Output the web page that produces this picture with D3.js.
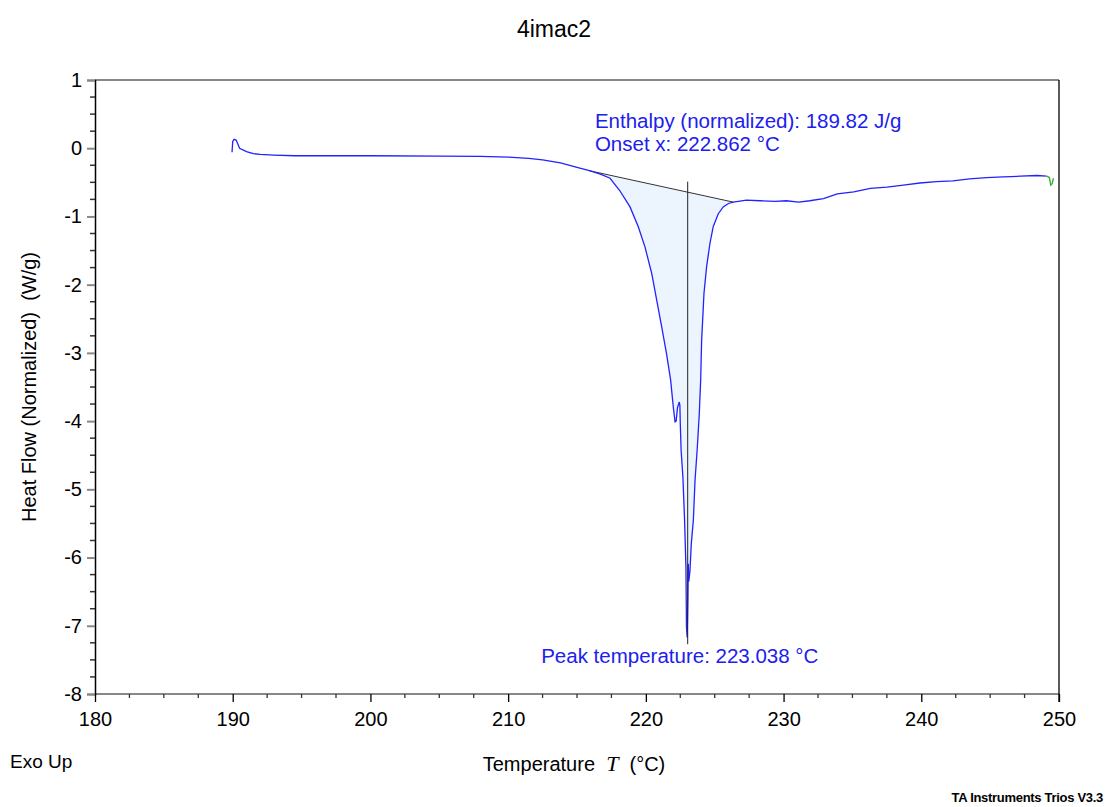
<!DOCTYPE html>
<html>
<head>
<meta charset="utf-8">
<script src="https://cdn.jsdelivr.net/npm/d3@7"></script>
<style>
  body { margin: 0; background: #fff; }
  text { font-family: "Liberation Sans", Arial, sans-serif; }
</style>
</head>
<body>
<div id="graph"></div>
<script>
var width = 1109, height = 807;
var margin = {left: 95, right: 50, top: 80, bottom: 113};

// measured curve: temperature (°C) and heat flow (W/g)
var temps = [189.95, 190.0, 190.1, 190.25, 190.5, 191.0, 191.5, 192.0, 193.0, 194.5,
  200, 205, 208, 210, 211.5, 212.5, 213.8, 215.0, 215.9, 216.7,
  217.4, 218.1, 218.85, 219.45, 219.94, 220.43, 220.79, 221.15, 221.5, 221.8,
  221.99, 222.12, 222.2, 222.3, 222.43, 222.47, 222.5, 222.56, 222.69, 222.81,
  222.91, 222.95, 223.0, 223.05, 223.08, 223.12, 223.2, 223.3, 223.45, 223.57,
  223.74, 223.88, 223.98, 224.05, 224.22, 224.41, 224.65, 224.89, 225.26, 225.62,
  226.0, 226.35, 227.3, 228.3, 229.4, 230.2, 231.1, 231.9, 232.9, 233.9,
  235.1, 236.3, 237.5, 238.7, 239.9, 241.1, 242.3, 243.5, 244.75, 245.96,
  247.2, 248.4, 249.1];
var heatFlow = [-0.06, 0.10, 0.13, 0.12, 0.0, -0.05, -0.08, -0.09, -0.10, -0.11,
  -0.11, -0.115, -0.12, -0.13, -0.15, -0.17, -0.215, -0.28, -0.33, -0.38,
  -0.44, -0.62, -0.86, -1.15, -1.45, -1.84, -2.23, -2.62, -3.01, -3.40,
  -3.79, -4.01, -4.0, -3.8, -3.72, -3.77, -4.04, -4.43, -4.82, -5.45,
  -6.14, -7.02, -7.17, -6.6, -6.09, -6.35, -6.2, -5.8, -5.45, -4.87,
  -4.38, -3.89, -3.40, -2.82, -2.13, -1.74, -1.40, -1.15, -0.96, -0.86,
  -0.81, -0.79, -0.76, -0.77, -0.78, -0.77, -0.79, -0.77, -0.74, -0.67,
  -0.64, -0.59, -0.57, -0.54, -0.51, -0.49, -0.48, -0.45, -0.43, -0.42,
  -0.41, -0.40, -0.41];
// tail segment drawn in green
var tailTemps = [249.1, 249.3, 249.4, 249.5, 249.6];
var tailFlow = [-0.41, -0.43, -0.54, -0.52, -0.44];

// integration baseline end points
var baseT = [215.9, 226.35];
var baseV = [-0.33, -0.79];
var peakT = 223.038;
var peakLine = [-0.49, -7.27];

var xTicks = [180, 190, 200, 210, 220, 230, 240, 250];
var yTicks = [1, 0, -1, -2, -3, -4, -5, -6, -7, -8];

var svg = d3.select("#graph").append("svg")
    .attr("width", width)
    .attr("height", height);

var x = d3.scaleLinear().domain([180, 250]).range([margin.left, width - margin.right]);
var y = d3.scaleLinear().domain([-8, 1]).range([height - margin.bottom, margin.top]);

var pts = temps.map(function(t, i) { return [t, heatFlow[i]]; });
var tail = tailTemps.map(function(t, i) { return [t, tailFlow[i]]; });

function baseline(t) {
  return baseV[0] + (t - baseT[0]) / (baseT[1] - baseT[0]) * (baseV[1] - baseV[0]);
}

// shaded peak area
var inPeak = pts.filter(function(d) { return d[0] >= baseT[0] && d[0] <= baseT[1]; });
svg.append("path")
    .datum(inPeak)
    .attr("fill", "#ecf4fd")
    .attr("d", d3.area()
      .x(function(d) { return x(d[0]); })
      .y0(function(d) { return y(baseline(d[0])); })
      .y1(function(d) { return y(d[1]); }));

// baseline
svg.append("line")
    .attr("x1", x(baseT[0])).attr("y1", y(baseV[0]))
    .attr("x2", x(baseT[1])).attr("y2", y(baseV[1]))
    .attr("stroke", "#333").attr("stroke-width", 1);

var line = d3.line()
    .x(function(d) { return x(d[0]); })
    .y(function(d) { return y(d[1]); });

svg.append("path")
    .datum(pts)
    .attr("fill", "none")
    .attr("stroke", "#2222ff")
    .attr("stroke-width", 1.3)
    .attr("d", line);

svg.append("path")
    .datum(tail)
    .attr("fill", "none")
    .attr("stroke", "#33aa33")
    .attr("stroke-width", 1.3)
    .attr("d", line);

// peak marker
svg.append("line")
    .attr("x1", x(peakT)).attr("x2", x(peakT))
    .attr("y1", y(peakLine[0])).attr("y2", y(peakLine[1]))
    .attr("stroke", "#222").attr("stroke-width", 1);

// frame
var x0 = x(180), x1 = x(250), y0 = y(-8), y1 = y(1);
svg.append("line").attr("x1", x0).attr("x2", x1).attr("y1", y1).attr("y2", y1).attr("stroke", "#888").attr("stroke-width", 2);
svg.append("line").attr("x1", x0).attr("x2", x1).attr("y1", y0).attr("y2", y0).attr("stroke", "#888").attr("stroke-width", 2);
svg.append("line").attr("x1", x1).attr("x2", x1).attr("y1", y1).attr("y2", y0 + 8).attr("stroke", "#000").attr("stroke-width", 1.3);

// left axis
var yAxis = svg.append("g")
    .attr("transform", "translate(" + x0 + ",0)")
    .call(d3.axisLeft(y).tickValues(yTicks).tickSize(8).tickPadding(5)
      .tickFormat(function(d) { return String(d); }));
yAxis.select(".domain").attr("stroke", "#000").attr("stroke-width", 1.5);
yAxis.selectAll(".tick line").attr("stroke", "#888").attr("stroke-width", 2);
yAxis.selectAll(".tick text").attr("font-size", 20).attr("fill", "#000")
    .attr("font-family", "Liberation Sans, Arial, sans-serif");
svg.append("g")
    .attr("transform", "translate(" + x0 + ",0)")
    .selectAll("line")
    .data(d3.range(-8, 1, 0.25).filter(function(v) { return Math.abs(v - Math.round(v)) > 0.01; }))
    .enter().append("line")
    .attr("x1", -5).attr("x2", 0)
    .attr("y1", function(d) { return y(d); }).attr("y2", function(d) { return y(d); })
    .attr("stroke", "#333").attr("stroke-width", 1.5);

// bottom axis
var xAxis = svg.append("g")
    .attr("transform", "translate(0," + y0 + ")")
    .call(d3.axisBottom(x).tickValues(xTicks).tickSize(8).tickPadding(10)
      .tickFormat(function(d) { return String(d); }));
xAxis.select(".domain").remove();
xAxis.selectAll(".tick line").attr("stroke", "#000").attr("stroke-width", 1.3);
xAxis.selectAll(".tick text").attr("font-size", 20).attr("fill", "#000")
    .attr("font-family", "Liberation Sans, Arial, sans-serif");
svg.append("g")
    .attr("transform", "translate(0," + y0 + ")")
    .selectAll("line")
    .data(d3.range(182.5, 250, 2.5).filter(function(v) { return v % 10 !== 0; }))
    .enter().append("line")
    .attr("y1", 0).attr("y2", 4)
    .attr("x1", function(d) { return x(d); }).attr("x2", function(d) { return x(d); })
    .attr("stroke", "#333").attr("stroke-width", 1.3);

// annotations
var annoColor = "#2020ee";
svg.append("text").attr("x", x(216.3)).attr("y", y(0.30))
    .attr("font-size", 20.5).attr("fill", annoColor)
    .text("Enthalpy (normalized): 189.82 J/g");
svg.append("text").attr("x", x(216.3)).attr("y", y(-0.04))
    .attr("font-size", 20.5).attr("fill", annoColor)
    .text("Onset x: 222.862 °C");
svg.append("text").attr("x", x(212.4)).attr("y", y(-7.54))
    .attr("font-size", 20.5).attr("fill", annoColor)
    .text("Peak temperature: 223.038 °C");

// titles
svg.append("text").attr("x", 554).attr("y", 37)
    .attr("text-anchor", "middle").attr("font-size", 23)
    .text("4imac2");

svg.append("text")
    .attr("transform", "translate(36," + ((y0 + y1) / 2) + ") rotate(-90)")
    .attr("text-anchor", "middle").attr("font-size", 20)
    .attr("xml:space", "preserve")
    .text("Heat Flow (Normalized)  (W/g)");

var xl = svg.append("text").attr("x", 574).attr("y", 771)
    .attr("text-anchor", "middle").attr("font-size", 20)
    .attr("xml:space", "preserve");
xl.append("tspan").text("Temperature  ");
xl.append("tspan").attr("font-family", "Liberation Serif, serif").attr("font-style", "italic").attr("font-size", 22).text("T");
xl.append("tspan").text("  (°C)");

svg.append("text").attr("x", 10).attr("y", 768)
    .attr("font-size", 19).text("Exo Up");

svg.append("text").attr("x", 1103).attr("y", 802)
    .attr("text-anchor", "end").attr("font-size", 13).attr("font-weight", "bold")
    .attr("letter-spacing", -0.3)
    .text("TA Instruments Trios V3.3");
</script>
</body>
</html>
